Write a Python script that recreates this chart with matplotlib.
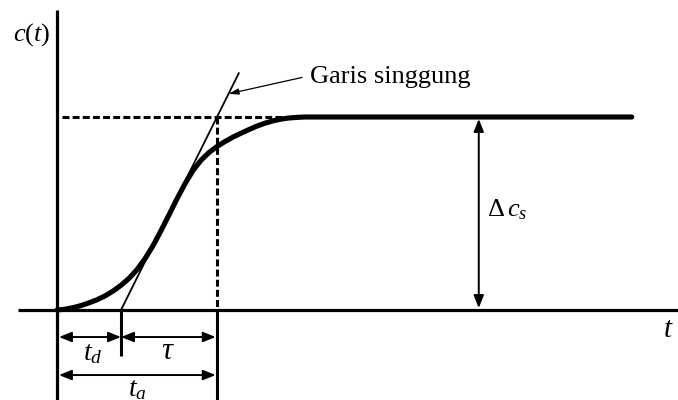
import matplotlib
matplotlib.use("Agg")
import matplotlib.pyplot as plt
from matplotlib.patches import FancyArrowPatch, ArrowStyle

plt.rcParams["font.family"] = ["Liberation Serif", "DejaVu Serif"]
plt.rcParams["mathtext.fontset"] = "custom"
plt.rcParams["mathtext.rm"] = "Liberation Serif"
plt.rcParams["mathtext.it"] = "Liberation Serif:italic"
plt.rcParams["lines.scale_dashes"] = False

# Process reaction curve (step response) c(t), normalised so the final change is 1
t_values = [0.0, 0.125, 0.25, 0.375, 0.5, 0.625, 0.75, 0.875, 1.0, 1.125,
            1.25, 1.375, 1.5, 1.625, 1.75, 1.875, 2.0, 2.125, 2.25, 2.375,
            2.5, 2.625, 2.75, 2.875, 3.0, 3.125, 3.25, 3.375, 3.5, 3.625,
            3.75, 3.875, 8.98]
c_values = [0.0, 0.004, 0.012, 0.023, 0.037, 0.053, 0.073, 0.098, 0.128, 0.164,
            0.209, 0.266, 0.333, 0.411, 0.493, 0.576, 0.654, 0.723, 0.776, 0.816,
            0.847, 0.873, 0.896, 0.916, 0.935, 0.953, 0.968, 0.98, 0.989, 0.995,
            0.998, 1.0, 1.0]

# Characteristic times and steady-state change
t_d = 1.0          # dead time
tau = 1.5          # time constant
t_a = t_d + tau    # apparent time where the tangent reaches the final value
delta_c = 1.0      # steady-state change

tangent_label = "Garis singgung"

fig = plt.figure(figsize=(6.78, 4.0), dpi=100)
ax = fig.add_axes([0, 0, 1, 1])
ax.set_xlim(-0.8906, 9.703)
ax.set_ylim(-0.4663, 1.6062)
ax.axis("off")

k = "black"

# Coordinate axes
ax.plot([-0.61, 9.703], [0, 0], color=k, lw=2.3, solid_capstyle="butt")
ax.plot([0, 0], [-0.4663, 1.554], color=k, lw=2.3, solid_capstyle="butt")

# Dashed guides at the final value and at t_a
ax.plot([0.08, 3.55], [delta_c, delta_c], color=k, lw=2.2,
        dashes=(5, 2.3), dash_capstyle="butt")
ax.plot([t_a, t_a], [delta_c, 0], color=k, lw=2.2,
        dashes=(5, 2.3), dash_capstyle="butt")

# Response curve
ax.plot(t_values, c_values, color=k, lw=3.7, solid_capstyle="round",
        solid_joinstyle="round")

# Tangent at the inflection point
t_top = 2.84
ax.plot([t_d, t_top], [0, (t_top - t_d) / tau * delta_c], color=k, lw=1.3)

# Vertical markers below the time axis
ax.plot([t_d, t_d], [0, -0.238], color=k, lw=2.2, solid_capstyle="butt")
ax.plot([t_a, t_a], [0, -0.4663], color=k, lw=2.2, solid_capstyle="butt")

style = ArrowStyle("<|-|>", head_length=7.5, head_width=3.0)


def dim_arrow(p0, p1):
    ax.add_patch(FancyArrowPatch(p0, p1, arrowstyle=style, mutation_scale=1,
                                 color=k, lw=1.4, shrinkA=0, shrinkB=0))


y_row1 = -0.14
y_row2 = -0.337
dim_arrow((0.03, y_row1), (t_d, y_row1))
dim_arrow((t_d, y_row1), (t_a - 0.02, y_row1))
dim_arrow((0.03, y_row2), (t_a - 0.02, y_row2))

# Steady-state change arrow
x_dc = 6.59
dim_arrow((x_dc, 0.01), (x_dc, delta_c - 0.01))

fs = 20
ax.text(0.5625, -0.228, r"$t_d$", fontsize=fs, ha="center", va="center")
ax.text(1.73, -0.215, r"$\tau$", fontsize=fs + 2, ha="center", va="center")
ax.text(1.25, -0.415, r"$t_a$", fontsize=fs, ha="center", va="center")
ax.text(-0.39, 1.425, r"$c(t)$", fontsize=19, ha="center", va="center")
ax.text(9.55, -0.104, r"$t$", fontsize=21, ha="center", va="center")
ax.text(6.72, 0.518, r"$\Delta\,c_s$", fontsize=19, ha="left", va="center")

# Tangent callout
tip_t = 2.68
ax.text(3.95, 1.205, tangent_label, fontsize=19, ha="left", va="center")
ax.add_patch(FancyArrowPatch((3.83, 1.205), (tip_t, (tip_t - t_d) / tau),
                             arrowstyle=ArrowStyle("-|>", head_length=6,
                                                   head_width=1.8),
                             mutation_scale=1, color=k, lw=0.9,
                             shrinkA=0, shrinkB=0))

fig.savefig("out.png", dpi=100)
